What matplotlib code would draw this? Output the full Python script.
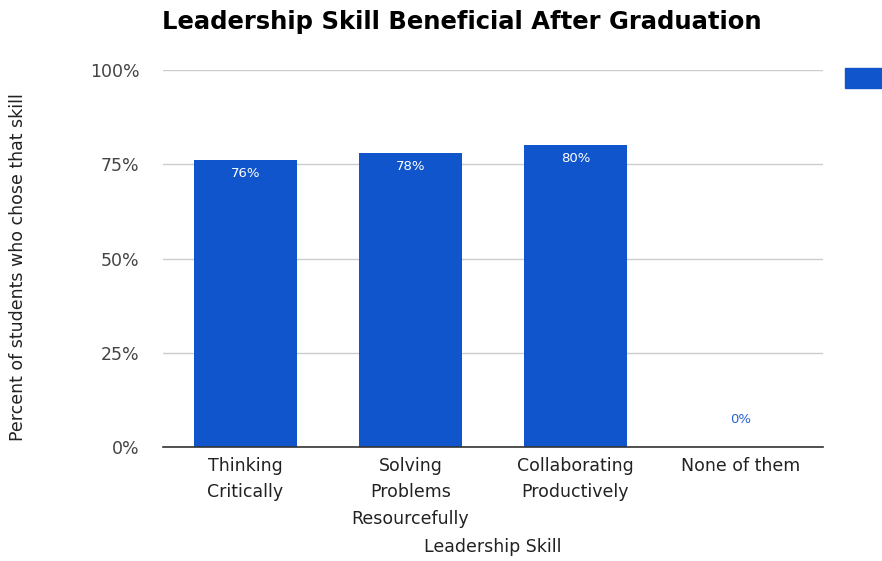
import matplotlib
matplotlib.use("Agg")
import matplotlib.pyplot as plt
from matplotlib.patches import Rectangle

categories = ["Thinking\nCritically", "Solving\nProblems\nResourcefully",
              "Collaborating\nProductively", "None of them"]
values = [76, 78, 80, 0]
value_labels = ["76%", "78%", "80%", "0%"]
yticks = [0, 25, 50, 75, 100]
ytick_labels = ["0%", "25%", "50%", "75%", "100%"]

plt.rcParams['font.family'] = ['DejaVu Sans']
bar_color = "#1155cc"

fig = plt.figure(figsize=(8.82, 5.61), dpi=100)
ax = fig.add_axes([0.1848, 0.2032, 0.7483, 0.672])

x = list(range(len(categories)))
ax.bar(x, values, width=0.62, color=bar_color, zorder=3)
ax.set_xlim(-0.5, len(categories) - 0.5)
ax.set_ylim(0, 100)

ax.set_yticks(yticks)
ax.set_yticklabels(ytick_labels, fontsize=12.5, color="#444444")
ax.set_xticks(x)
ax.set_xticklabels(categories, fontsize=12.5, color="#222222", linespacing=1.62)
ax.tick_params(axis="y", length=0, pad=17)
ax.tick_params(axis="x", length=0, pad=7)

ax.grid(axis="y", color="#cccccc", linewidth=1, zorder=0)
for side in ["top", "right", "left"]:
    ax.spines[side].set_visible(False)
ax.spines["bottom"].set_color("#333333")
ax.spines["bottom"].set_linewidth(1.2)
ax.spines["bottom"].set_zorder(4)

for xi, v, lab in zip(x, values, value_labels):
    if v > 5:
        ax.annotate(lab, (xi, v), xytext=(0, -9.5), textcoords="offset points",
                    ha="center", va="center", fontsize=9.5, color="white", zorder=5)
    else:
        ax.annotate(lab, (xi, v), xytext=(0, 20), textcoords="offset points",
                    ha="center", va="center", fontsize=9.5, color="#2a63d6", zorder=5)

ax.set_xlabel("Leadership Skill", fontsize=12.5, color="#222222")
ax.xaxis.set_label_coords(0.5, -0.265)
ax.xaxis.label.set_va("center")
ax.set_ylabel("Percent of students who chose that skill", fontsize=12.5,
              color="#222222")
ax.yaxis.set_label_coords(-0.2197, 0.477)
ax.yaxis.label.set_va("center")

fig.text(0.524, 0.961, "Leadership Skill Beneficial After Graduation",
         ha="center", va="center", fontsize=17.5, fontweight="bold", color="#000000")

# legend swatch
fig.patches.append(Rectangle((845 / 882, 1 - 88 / 561), 40 / 882, 20 / 561,
                             transform=fig.transFigure, color=bar_color))

fig.savefig("out.png", dpi=100)
